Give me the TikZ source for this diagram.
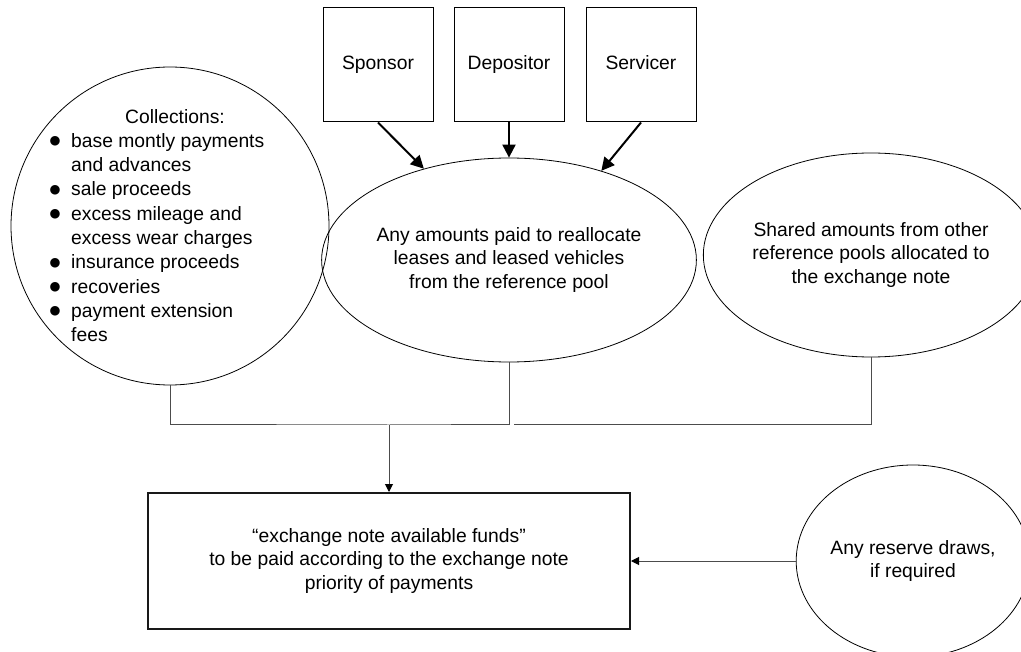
\documentclass[tikz,border=0pt]{standalone}
\usepackage{fontspec}
\setmainfont{Liberation Sans}
\newfontfamily\symfont{DejaVu Sans}
\usetikzlibrary{shapes.geometric,arrows.meta}
\newcommand{\bigbul}{\makebox[24pt][l]{\hspace{2.5pt}\raisebox{2.5pt}{\symfont\fontsize{12.5}{12.5}\selectfont ●}}}
\tikzset{
  every node/.style={font=\fontsize{19.3}{23.5}\selectfont},
  pbox/.style={draw=black, line width=1pt, minimum width=110pt, minimum height=114pt, inner sep=0pt, text height=14pt, text depth=4pt},
  oval/.style={draw=black, line width=0.8pt, ellipse, inner sep=0pt, align=center},
  outbox/.style={draw=black!90, line width=2pt, minimum width=482pt, minimum height=136pt, inner sep=0pt, align=center},
  bigarrow/.style={line width=2pt, -{Triangle[length=13pt,width=13pt]}},
  conn/.style={draw=black!70, line width=1pt},
  connarrow/.style={conn, -{Triangle[length=8pt,width=8pt,color=black]}},
}
\begin{document}
\begin{tikzpicture}[x=1pt, y=-1pt]
\useasboundingbox (0,0) rectangle (1021,652);
\clip (0,0) rectangle (1021,652);
% top boxes
\node[pbox] (sponsor) at (378,65) {Sponsor};
\node[pbox] (depositor) at (509,65) {Depositor};
\node[pbox] (servicer) at (641,65) {Servicer};
% collections circle
\node[draw=black, line width=0.8pt, circle, minimum size=318pt, inner sep=0pt] (coll) at (170,226) {};
\node[anchor=base, inner sep=0pt] (colltitle) at (175,124) {Collections:};
\node[anchor=north west, inner sep=0pt] (colllist) at (47,130) {\fontsize{19.3}{24.3}\selectfont
\begin{tabular}{@{}l@{}l@{}}
\bigbul & base montly payments\\
 & and advances\\
\bigbul & sale proceeds\\
\bigbul & excess mileage and\\
 & excess wear charges\\
\bigbul & insurance proceeds\\
\bigbul & recoveries\\
\bigbul & payment extension\\
 & fees
\end{tabular}};
% middle ellipse
\node[oval, minimum width=328pt, minimum height=204pt] (mid) at (509,260)
  {Any amounts paid to reallocate\\leases and leased vehicles\\from the reference pool};
% right ellipse
\node[oval, minimum width=322pt, minimum height=204pt] (shared) at (871,255)
  {Shared amounts from other\\reference pools allocated to\\the exchange note};
% output box
\node[outbox] (out) at (389,561)
  {“exchange note available funds”\\to be paid according to the exchange note\\priority of payments};
% reserve ellipse
\node[oval, minimum width=230pt, minimum height=192pt] (res) at (913,561)
  {Any reserve draws,\\if required};
% arrows from top boxes
\draw[bigarrow] (sponsor.south) -- (mid.133);
\draw[bigarrow] (depositor.south) -- (mid.north);
\draw[bigarrow] (servicer.south) -- (mid.44);
% bus
\coordinate (bus) at (389,425);
\coordinate (gap) at (514,425);
\draw[conn] (coll.south) |- (bus) -- (mid.south |- bus) -- (mid.south);
\draw[conn] (gap) -| (shared.south);
\draw[connarrow] (bus) -- (out.north);
\draw[connarrow] (res.west) -- (out.east);
\end{tikzpicture}
\end{document}
